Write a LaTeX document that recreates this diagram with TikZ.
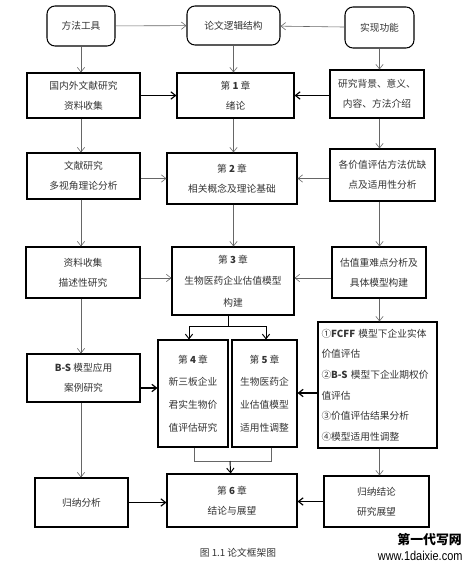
\documentclass[tikz,border=0pt]{standalone}
\usepackage{fontspec}
\setmainfont{Noto Sans CJK SC}
\newfontfamily\wmfont{Liberation Sans}
\usetikzlibrary{
  arrows.meta,
  positioning
}
\tikzset{
  box/.style={rectangle, draw, line width=0.9pt, inner sep=0pt, align=center,
    text=black!80, font=\fontsize{8.3}{17}\selectfont},
  endbox/.style={box, rounded corners=2.4mm},
  link/.style={-{Straight Barb[length=1.4mm,width=2.2mm]}, draw=black!60, line width=0.5pt},
  heavylink/.style={link, draw=black, line width=1pt}
}

\begin{document}
\begin{tikzpicture}[
    x=0.3mm, y=-0.3mm,
    chap/.style={box, font=\fontsize{8.3}{19.4}\selectfont},
    fork/.style={draw=black, line width=0.8pt}
]
\useasboundingbox (0,0) rectangle (476,569);

% nodes
\node[endbox, minimum width=20.4mm, minimum height=12mm]   (tool)  at (81,26)      {方法工具};
\node[endbox, minimum width=27.9mm, minimum height=11.7mm] (logic) at (233.5,25.5) {论文逻辑结构};
\node[endbox, minimum width=20.7mm, minimum height=12.3mm] (func)  at (379.5,27.5) {实现功能};

\node[box, minimum width=33.9mm, minimum height=13.5mm] (lit) at (83.5,95.5)  {国内外文献研究\\资料收集};
\node[box, minimum width=35.1mm, minimum height=13.5mm] (ch1) at (235.5,95.5) {第 \textbf{1} 章\\绪论};
\node[box, minimum width=28.2mm, minimum height=14.4mm] (bg)  at (377,94)     {研究背景、意义、\\内容、方法介绍};

\node[box, minimum width=33.9mm, minimum height=13.8mm] (rev) at (83.5,176)   {文献研究\\多视角理论分析};
\node[box, minimum width=39mm,   minimum height=15.3mm] (ch2) at (232,178.5)  {第 \textbf{2} 章\\相关概念及理论基础};
\node[box, minimum width=31.5mm, minimum height=15.6mm] (cmp) at (382.5,175)  {各价值评估方法优缺\\点及适用性分析};

\node[box, minimum width=34.2mm, minimum height=15.3mm] (data) at (83,272.5) {资料收集\\描述性研究};
\node[box, minimum width=36.6mm, minimum height=20.4mm,
      font=\fontsize{8.3}{18.3}\selectfont]             (ch3)  at (233,281)  {第 \textbf{3} 章\\生物医药企业估值模型\\构建};
\node[box, minimum width=28.2mm, minimum height=15.3mm] (key)  at (379,272.5) {估值重难点分析及\\具体模型构建};

\node[box, minimum width=33.9mm, minimum height=14.4mm] (bs)  at (83.5,378)   {\textbf{B-S} 模型应用\\案例研究};
\node[chap, minimum width=21mm,  minimum height=32.1mm] (ch4) at (193,393.5)  {第 \textbf{4} 章\\新三板企业\\君实生物价\\值评估研究};
\node[chap, minimum width=19.5mm, minimum height=32.1mm] (ch5) at (264.5,393.5) {第 \textbf{5} 章\\生物医药企\\业估值模型\\适用性调整};
\node[box, align=left, text width=33.6mm, inner xsep=1.05mm, minimum height=37.8mm,
      font=\fontsize{8.3}{17.6}\selectfont]             (steps) at (377.5,385)
  {①\textbf{FCFF} 模型下企业实体\\价值评估\\②\textbf{B-S} 模型下企业期权价\\值评估\\③价值评估结果分析\\④模型适用性调整};

\node[box, minimum width=27.9mm, minimum height=14.7mm] (sum)   at (81.5,502.5)  {归纳分析};
\node[box, minimum width=39mm,   minimum height=15.9mm] (ch6)   at (232,500.5)   {第 \textbf{6} 章\\结论与展望};
\node[box, minimum width=31.5mm, minimum height=15.3mm] (concl) at (376.5,501.5) {归纳结论\\研究展望};

% caption
\node[text=black!80, font=\fontsize{8.3}{10}\selectfont] (cap) at (238,553) {图 1.1 论文框架图};
\node[anchor=east, font=\fontsize{11}{11}\selectfont\bfseries] (wm1) at (466,540) {第一代写网};
\node[anchor=east, xscale=0.85, font=\wmfont\fontsize{11}{11}\selectfont] (wm2) at (466,556) {www.1daixie.com};

% arrows
\draw[link] (tool) -- (logic);
\draw[link] (func) -- (logic);

\draw[link] (tool) -- (tool |- lit.north);
\draw[link] (lit.south -| tool) -- (rev.north -| tool);
\draw[link] (rev.south -| tool) -- (data.north -| tool);
\draw[link] (data.south -| tool) -- (bs.north -| tool);
\draw[link] (bs.south -| tool) -- (sum.north -| tool);

\draw[link] (logic) -- (logic |- ch1.north);
\draw[link] (ch1.south -| logic) -- (ch2.north -| logic);
\draw[link] (ch2.south -| logic) -- (ch3.north -| logic);

\draw[link] (func) -- (func |- bg.north);
\draw[link] (bg.south -| func) -- (cmp.north -| func);
\draw[link] (cmp.south -| func) -- (key.north -| func);
\draw[link] (key.south -| func) -- (steps.north -| func);
\draw[link] (steps.south -| func) -- (concl.north -| func);

\draw[heavylink] (lit) -- (ch1);
\draw[heavylink] (bg.west |- ch1) -- (ch1);
\draw[link] (rev.east |- ch2) -- (ch2);
\draw[link] (cmp.west |- ch2) -- (ch2);

\coordinate (dataout) at ([yshift=-1.65mm]data.east);
\coordinate (keyout)  at ([yshift=-1.65mm]key.west);
\draw[link] (dataout) -- (dataout -| ch3.west);
\draw[link] (keyout) -- (keyout -| ch3.east);

\coordinate (bsout)    at ([yshift=-3mm]bs.east);
\coordinate (stepsout) at ([yshift=-2.4mm]steps.west);
\draw[heavylink] (bsout) -- (bsout -| ch4.west);
\draw[heavylink] (stepsout) -- (stepsout -| ch5.east);

\draw[heavylink] (sum) -- (sum -| ch6.west);
\draw[heavylink] (concl) -- (concl -| ch6.east);

% fork and merge
\coordinate (fk) at (228,326);
\coordinate (mg) at (230,461);
\draw[fork] (ch3.south -| fk) -- (fk);
\draw[link, fork] (fk) -| (ch4.north -| 189,0);
\draw[link, fork] (fk) -| (ch5.north -| 266,0);
\draw[draw=black!60, line width=0.5pt] (ch4.south -| 194,0) |- (mg);
\draw[draw=black!60, line width=0.5pt] (ch5.south -| 271,0) |- (mg);
\draw[link, fork] (mg) -- (ch6);

\end{tikzpicture}
\end{document}
